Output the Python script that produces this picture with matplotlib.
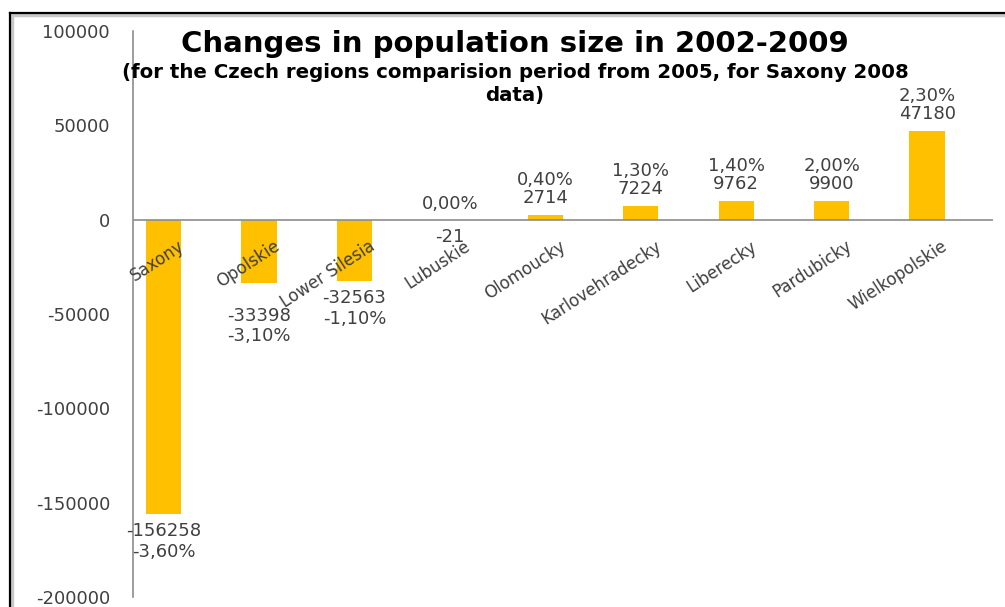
import matplotlib.pyplot as plt
from matplotlib.lines import Line2D

regions = ['Saxony', 'Opolskie', 'Lower Silesia', 'Lubuskie', 'Olomoucky',
           'Karlovehradecky', 'Liberecky', 'Pardubicky', 'Wielkopolskie']
change = [-156258, -33398, -32563, -21, 2714, 7224, 9762, 9900, 47180]
pct = ['-3,60%', '-3,10%', '-1,10%', '0,00%', '0,40%',
       '1,30%', '1,40%', '2,00%', '2,30%']
yticks = [100000, 50000, 0, -50000, -100000, -150000, -200000]

plt.rcParams['font.family'] = ['DejaVu Sans']
bar_color = '#FFC000'
txt_color = '#404040'
fs = 13

fig = plt.figure(figsize=(10.05, 6.07), dpi=100)
W, H = 1005, 607
ax = fig.add_axes([133 / W, 1 - 597 / H, (993 - 133) / W, (597 - 31) / H])

x = list(range(len(regions)))
ax.bar(x, change, width=0.37, color=bar_color, zorder=2)
ax.set_xlim(-0.32, 8.69)
ax.set_ylim(-200000, 100000)
ax.set_yticks(yticks)
ax.set_yticklabels([str(v) for v in yticks], fontsize=fs, color=txt_color)
ax.tick_params(axis='y', length=0, pad=16.5)
ax.set_xticks([])
for s in ['top', 'right', 'bottom']:
    ax.spines[s].set_visible(False)
ax.spines['left'].set_color('#8c8c8c')
ax.spines['left'].set_linewidth(1.2)
ax.axhline(0, color='#8c8c8c', lw=1.2, zorder=3)

# slanted category names hanging just under the zero line
for i, name in enumerate(regions):
    ax.annotate(name, xy=(i, 0), xytext=(19, -25), textcoords='offset pixels',
                rotation=33, rotation_mode='anchor', ha='right', va='center',
                fontsize=12, color=txt_color)

# value + percentage labels
for i, (v, p) in enumerate(zip(change, pct)):
    if v > 0:
        ax.annotate(f'{p}\n{v}', xy=(i, v), xytext=(0, 8), textcoords='offset pixels',
                    ha='center', va='bottom', fontsize=fs, color=txt_color,
                    linespacing=1.0)
    elif abs(v) < 1000:
        ax.annotate(p, xy=(i, 0), xytext=(0, 7), textcoords='offset pixels',
                    ha='center', va='bottom', fontsize=fs, color=txt_color)
        ax.annotate(str(v), xy=(i, v), xytext=(0, -8), textcoords='offset pixels',
                    ha='center', va='top', fontsize=fs, color=txt_color)
    else:
        dy = -24 if regions[i] == 'Opolskie' else -8
        ax.annotate(f'{v}\n{p}', xy=(i, v), xytext=(0, dy), textcoords='offset pixels',
                    ha='center', va='top', fontsize=fs, color=txt_color,
                    linespacing=1.2)

fig.text(515 / W, 1 - 44 / H, 'Changes in population size in 2002-2009',
         ha='center', va='center', fontsize=21, fontweight='bold', color='black')
fig.text(515 / W, 1 - 73 / H,
         '(for the Czech regions comparision period from 2005, for Saxony 2008',
         ha='center', va='center', fontsize=14.2, fontweight='bold', color='black')
fig.text(515 / W, 1 - 95 / H, 'data)',
         ha='center', va='center', fontsize=14.2, fontweight='bold', color='black')

# double frame line along top and left edges
for lw, c, off in [(2.5, '#c8c8c8', 4), (1.6, 'black', 1.5)]:
    fig.add_artist(Line2D([(8 + off) / W, 1], [1 - (11 + off) / H] * 2,
                          transform=fig.transFigure, color=c, lw=lw))
    fig.add_artist(Line2D([(8 + off) / W] * 2, [0, 1 - (11 + off) / H],
                          transform=fig.transFigure, color=c, lw=lw))

fig.savefig('out.png', dpi=100)
